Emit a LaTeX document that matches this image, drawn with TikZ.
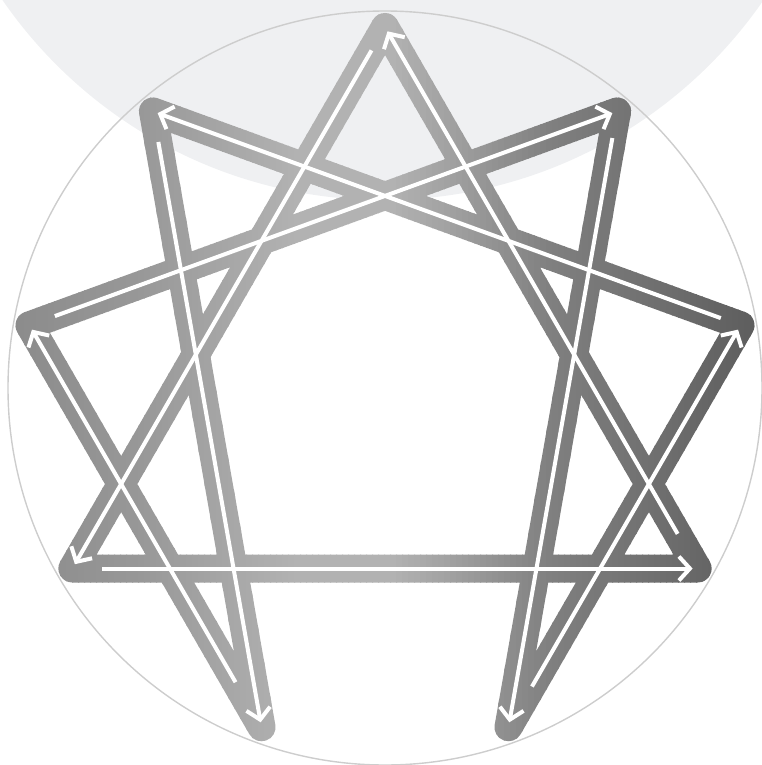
\documentclass[tikz,border=0pt]{standalone}
\usepackage{tikz}
\usetikzlibrary{arrows.meta,calc}
\usepackage{xcolor}
\definecolor{haze}{RGB}{239,240,242}
\definecolor{rim}{RGB}{205,205,205}
\tikzset{
  band/.style={line width=28pt,line join=round,line cap=round},
  flow/.style={white,line width=4pt,-{Straight Barb[length=11pt,width=24pt]},shorten >=5pt},
}
\newcommand{\ennea}{(p9)--(p6)--(p3)--cycle (p1)--(p4)--(p2)--(p8)--(p5)--(p7)--cycle}

\begin{document}
\begin{tikzpicture}[x=1pt,y=-1pt,
  declare function={lev(\x)=(\x<150)*(46-6*\x/150)+(\x>=150)*(\x<300)*(40-10*(\x-150)/150)
    +(\x>=300)*(\x<390)*30+(\x>=390)*(\x<460)*(30+8*(\x-390)/70)
    +(\x>=460)*(\x<550)*(38+12*(\x-460)/90)+(\x>=550)*(\x<650)*(50+6*(\x-550)/100)
    +(\x>=650)*(56+8*(\x-650)/112);}]
\useasboundingbox (0,0) rectangle (762,765);
\begin{scope}
  \clip (0,0) rectangle (762,765);
  \fill[haze] (383,-262) circle[radius=462pt];
\end{scope}
\coordinate (c) at (385,388);
\draw[rim,line width=1.4pt] (c) circle[radius=377pt];
\foreach \k/\ang in {1/50,2/10,3/-30,4/-70,5/-110,6/-150,7/170,8/130,9/90}
  \coordinate (p\k) at ($(c)+(\ang:361pt)$);
% metallic bands, one thin strip at a time
\foreach \i in {0,...,127}{
  \pgfmathsetmacro{\xs}{6*\i}
  \pgfmathsetmacro{\lv}{lev(\xs+3)}
  \begin{scope}
    \clip (\xs,0) rectangle (\xs+7,765);
    \draw[band,black!\lv] \ennea;
  \end{scope}
}
% arrows inside the bands
\foreach \a/\b/\s in {9/6/27,6/3/30,3/9/40,1/4/27,4/2/47,2/8/21,8/5/31,5/7/52,7/1/27}
  \draw[flow,shorten <=\s pt] (p\a)--(p\b);
\end{tikzpicture}
\end{document}
